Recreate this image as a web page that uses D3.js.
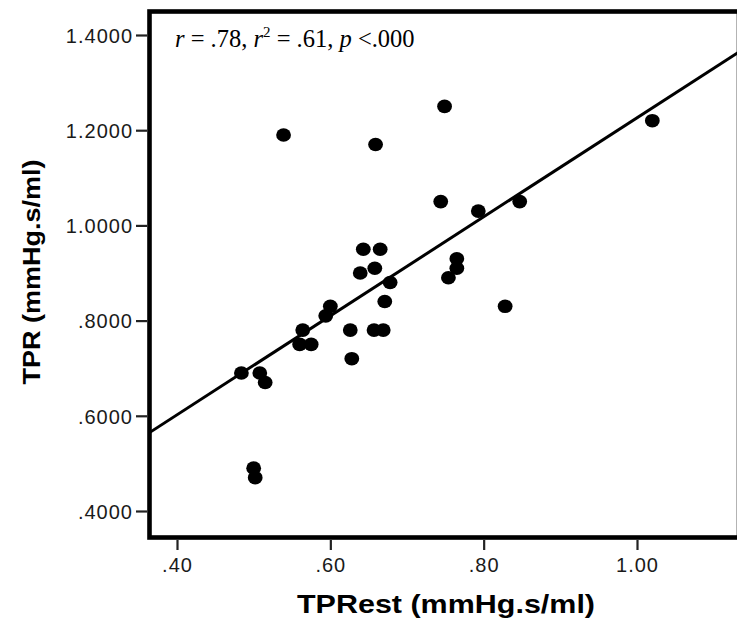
<!DOCTYPE html>
<html>
<head>
<meta charset="utf-8">
<script src="https://cdn.jsdelivr.net/npm/d3@7"></script>
<style>
  html, body { margin: 0; padding: 0; background: #fff; }
  svg { display: block; }
</style>
</head>
<body>
<svg id="chart" width="737" height="628"></svg>
<script>
// ---- data ----
const tprEst = [0.539, 0.749, 0.659, 0.744, 0.793, 0.847, 1.020, 0.643, 0.665, 0.639,
                0.658, 0.765, 0.765, 0.754, 0.678, 0.671, 0.828, 0.600, 0.594, 0.564,
                0.560, 0.575, 0.626, 0.657, 0.669, 0.628, 0.484, 0.508, 0.515, 0.500, 0.502];
const tpr    = [1.190, 1.250, 1.170, 1.050, 1.030, 1.050, 1.220, 0.950, 0.950, 0.900,
                0.910, 0.930, 0.910, 0.890, 0.880, 0.840, 0.830, 0.830, 0.810, 0.780,
                0.750, 0.750, 0.780, 0.780, 0.780, 0.720, 0.690, 0.690, 0.670, 0.490, 0.470];
const xTicks = [0.40, 0.60, 0.80, 1.00];
const xTickLabels = [".40", ".60", ".80", "1.00"];
const yTicks = [0.4, 0.6, 0.8, 1.0, 1.2, 1.4];
const yTickLabels = [".4000", ".6000", ".8000", "1.0000", "1.2000", "1.4000"];
const fitIntercept = 0.186;
const fitSlope = 1.040;
const xTitle = "TPRest (mmHg.s/ml)";
const yTitle = "TPR (mmHg.s/ml)";

// ---- layout ----
const svg = d3.select("#chart");
const frame = { left: 149.5, top: 11.5, right: 739, bottom: 537.5 };
const x = d3.scaleLinear().domain([0.4, 1.0]).range([177, 637]);
const y = d3.scaleLinear().domain([0.4, 1.4]).range([511, 35]);

svg.append("defs").append("clipPath").attr("id", "plotclip")
  .append("rect")
  .attr("x", frame.left).attr("y", frame.top)
  .attr("width", frame.right - frame.left).attr("height", frame.bottom - frame.top);

// y axis
const yAxis = svg.append("g")
  .attr("transform", `translate(${frame.left - 2.5},0)`)
  .call(d3.axisLeft(y).tickValues(yTicks).tickSize(11).tickPadding(3)
        .tickFormat((d, i) => yTickLabels[i]));
yAxis.select(".domain").remove();
yAxis.selectAll(".tick line").attr("stroke", "#222").attr("stroke-width", 2.2);
yAxis.selectAll(".tick text")
  .attr("font-family", "'Liberation Sans', Arial, sans-serif")
  .attr("font-size", 20).attr("fill", "#1a1a1a")
  .attr("letter-spacing", "1px")
  .attr("dy", "0.36em");

// x axis
const xAxis = svg.append("g")
  .attr("transform", `translate(0,${frame.bottom + 2.5})`)
  .call(d3.axisBottom(x).tickValues(xTicks).tickSize(10).tickPadding(4)
        .tickFormat((d, i) => xTickLabels[i]));
xAxis.select(".domain").remove();
xAxis.selectAll(".tick line").attr("stroke", "#222").attr("stroke-width", 2.2);
xAxis.selectAll(".tick text")
  .attr("font-family", "'Liberation Sans', Arial, sans-serif")
  .attr("font-size", 20).attr("fill", "#1a1a1a")
  .attr("letter-spacing", "1px")
  .attr("dy", "0.92em");

// frame
svg.append("rect")
  .attr("x", frame.left).attr("y", frame.top)
  .attr("width", frame.right - frame.left).attr("height", frame.bottom - frame.top)
  .attr("fill", "none").attr("stroke", "#000").attr("stroke-width", 4.6);

const plot = svg.append("g").attr("clip-path", "url(#plotclip)");

// regression line
const xd = x.invert(frame.left), xe = x.invert(frame.right);
plot.append("line")
  .attr("x1", x(xd)).attr("y1", y(fitIntercept + fitSlope * xd))
  .attr("x2", x(xe)).attr("y2", y(fitIntercept + fitSlope * xe))
  .attr("stroke", "#000").attr("stroke-width", 3);

// points
plot.selectAll("ellipse.pt")
  .data(tprEst.map((v, i) => [v, tpr[i]]))
  .join("ellipse")
  .attr("class", "pt")
  .attr("cx", d => x(d[0])).attr("cy", d => y(d[1]))
  .attr("rx", 7.4).attr("ry", 6.8)
  .attr("fill", "#000");

// annotation
const ann = svg.append("text")
  .attr("x", 175).attr("y", 47)
  .attr("font-family", "'Liberation Serif', 'Times New Roman', serif")
  .attr("font-size", 24.5).attr("fill", "#000");
ann.append("tspan").attr("font-style", "italic").text("r");
ann.append("tspan").text(" = .78, ");
ann.append("tspan").attr("font-style", "italic").text("r");
ann.append("tspan").attr("font-size", 15).attr("dy", -10).text("2");
ann.append("tspan").attr("dy", 10).text(" = .61, ");
ann.append("tspan").attr("font-style", "italic").text("p");
ann.append("tspan").text(" <.000");

// axis titles
svg.append("text")
  .attr("x", 446).attr("y", 613)
  .attr("text-anchor", "middle")
  .attr("font-family", "'Liberation Sans', Arial, sans-serif")
  .attr("font-weight", "bold").attr("font-size", 25)
  .attr("textLength", 298).attr("lengthAdjust", "spacingAndGlyphs")
  .attr("fill", "#000")
  .text(xTitle);

svg.append("text")
  .attr("transform", "translate(40,272) rotate(-90)")
  .attr("text-anchor", "middle")
  .attr("font-family", "'Liberation Sans', Arial, sans-serif")
  .attr("font-weight", "bold").attr("font-size", 24)
  .attr("textLength", 225).attr("lengthAdjust", "spacingAndGlyphs")
  .attr("fill", "#000")
  .text(yTitle);
</script>
</body>
</html>
